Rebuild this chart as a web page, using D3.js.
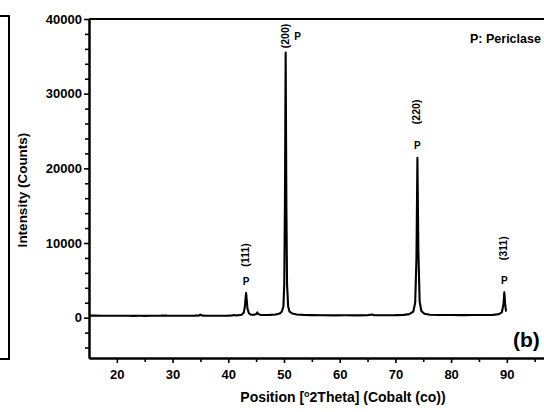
<!DOCTYPE html>
<html>
<head>
<meta charset="utf-8">
<script src="https://cdn.jsdelivr.net/npm/d3@7"></script>
<style>
  html, body { margin: 0; padding: 0; background: #fff; }
  svg { display: block; font-family: "Liberation Sans", Arial, sans-serif; font-weight: bold; }
</style>
</head>
<body>
<svg id="chart" width="544" height="412"></svg>
<script>
// XRD pattern, Co K-alpha radiation
const twoTheta = [
  15.0, 16, 17, 18, 19, 20, 21, 22, 23, 24, 25, 26, 27, 28, 28.5, 29, 30, 31, 32, 33, 34,
  34.8, 35.0, 35.2, 35.6, 36, 37, 38, 39, 40, 40.8, 41.0, 41.2, 41.8, 42.4, 42.8,
  43.0, 43.1, 43.2, 43.3, 43.45, 43.7, 44.0, 44.5, 45.0, 45.2, 45.4, 45.8, 46.5, 47.5,
  48.5, 49.2, 49.6, 49.9, 50.05, 50.17, 50.3, 50.43, 50.55, 50.75, 51.0, 51.5, 52.3, 53.5,
  55, 57, 59, 61, 63, 65, 65.8, 66.2, 68, 70, 71.5, 72.5, 73.2, 73.55, 73.78, 73.95,
  74.12, 74.35, 74.65, 75.2, 76.2, 78, 80, 82, 84, 86, 87.5, 88.5, 89.1, 89.4, 89.55,
  89.7, 89.85, 89.95
];
const counts = [
  280, 270, 260, 265, 255, 250, 255, 250, 245, 250, 245, 250, 260, 280, 300, 270, 260, 250, 255, 260, 270,
  300, 420, 300, 280, 260, 250, 250, 260, 270, 300, 380, 310, 320, 400, 700,
  1600, 2600, 3300, 2500, 1200, 600, 420, 380, 450, 700, 450, 380, 360, 380,
  420, 550, 800, 1500, 4500, 15000, 35500, 15000, 4500, 1500, 800, 550, 430, 370,
  340, 320, 310, 320, 310, 320, 430, 330, 330, 340, 380, 480, 800, 2000, 8000, 21400,
  9000, 2200, 900, 520, 400, 360, 350, 340, 350, 360, 380, 450, 700, 1800, 3400,
  1800, 900, 850
];

// Indexed reflections (periclase, MgO)
const reflHkl = ["(111)", "(200)", "(220)", "(311)"];
const reflPos = [43.2, 50.3, 73.95, 89.55];
const reflCounts = [3300, 35500, 21400, 3400];
const reflPhase = ["P", "P", "P", "P"];

const xMajorTicks = [20, 30, 40, 50, 60, 70, 80, 90];
const xMinorTicks = [25, 35, 45, 55, 65, 75, 85, 95];
const yMajorTicks = [0, 10000, 20000, 30000, 40000];
const yMinorTicks = [-4000, -2000, 2000, 4000, 6000, 8000, 12000, 14000, 16000, 18000,
  22000, 24000, 26000, 28000, 32000, 34000, 36000, 38000];

const svg = d3.select("#chart");
const plot = { left: 89, top: 19, bottom: 358 };

const x = d3.scaleLinear().domain([15, 98]).range([plot.left, plot.left + 83 * 5.571]);
const y = d3.scaleLinear().domain([-5400, 40000]).range([plot.bottom, plot.top]);

// Right border of the neighbouring panel
svg.append("path")
  .attr("d", "M0,16H9V359H0")
  .attr("fill", "none").attr("stroke", "#000").attr("stroke-width", 2);

svg.append("defs").append("clipPath").attr("id", "clip")
  .append("rect").attr("x", plot.left).attr("y", plot.top)
  .attr("width", 544 - plot.left).attr("height", plot.bottom - plot.top);

// Pattern
const pts = twoTheta.map((t, i) => [t, counts[i]]);
svg.append("path")
  .datum(pts)
  .attr("clip-path", "url(#clip)")
  .attr("fill", "none")
  .attr("stroke", "#000")
  .attr("stroke-width", 2.1)
  .attr("stroke-linejoin", "round")
  .attr("d", d3.line().x(d => x(d[0])).y(d => y(d[1])));

// Frame
const xMax = x.range()[1];
svg.append("line").attr("x1", plot.left).attr("x2", xMax).attr("y1", plot.top).attr("y2", plot.top)
  .attr("stroke", "#000").attr("stroke-width", 2);
svg.append("line").attr("x1", xMax).attr("x2", xMax).attr("y1", plot.top).attr("y2", plot.bottom)
  .attr("stroke", "#000").attr("stroke-width", 2);

function styleAxis(g) {
  g.select(".domain").attr("stroke-width", 2);
  g.selectAll(".tick line").attr("stroke-width", 1.6);
  g.selectAll("text").attr("font-size", 13).attr("font-weight", "bold")
    .attr("font-family", "'Liberation Sans', Arial, sans-serif").attr("fill", "#000");
}

// X axis
svg.append("g").attr("transform", `translate(0,${plot.bottom})`)
  .call(d3.axisBottom(x).tickValues(xMinorTicks).tickSize(4).tickSizeOuter(0).tickFormat(""))
  .call(styleAxis);
svg.append("g").attr("transform", `translate(0,${plot.bottom})`)
  .call(d3.axisBottom(x).tickValues(xMajorTicks).tickSize(5).tickSizeOuter(0).tickPadding(7).tickFormat(d3.format("d")))
  .call(styleAxis);

// Y axis
svg.append("g").attr("transform", `translate(${plot.left},0)`)
  .call(d3.axisLeft(y).tickValues(yMinorTicks).tickSize(4).tickSizeOuter(0).tickFormat(""))
  .call(styleAxis);
svg.append("g").attr("transform", `translate(${plot.left},0)`)
  .call(d3.axisLeft(y).tickValues(yMajorTicks).tickSize(5).tickSizeOuter(0).tickPadding(2).tickFormat(d3.format("d")))
  .call(styleAxis);

// Axis titles
svg.append("text")
  .attr("transform", "translate(27,190) rotate(-90)")
  .attr("text-anchor", "middle").attr("font-size", 13.5)
  .text("Intensity (Counts)");

const xt = svg.append("text")
  .attr("x", 343).attr("y", 402)
  .attr("text-anchor", "middle").attr("font-size", 14);
xt.append("tspan").text("Position [");
xt.append("tspan").attr("font-size", 9).attr("dy", -5).text("o");
xt.append("tspan").attr("dy", 5).text("2Theta] (Cobalt (co))");

// Reflection labels
reflPos.forEach((p, i) => {
  const px = x(p);
  const top = y(reflCounts[i]);
  let phaseX = px, phaseY = top - 12, hklY;
  if (top - 50 < plot.top) {
    // peak reaches the top of the frame: labels sit beside each other
    hklY = 36; phaseX = px + 12; phaseY = 36;
  } else if (i === 0) {
    hklY = top - 38;
  } else if (i === 3) {
    hklY = top - 44;
  } else {
    hklY = top - 46;
  }
  svg.append("text")
    .attr("transform", `translate(${px - 1},${hklY}) rotate(-90)`)
    .attr("text-anchor", "middle").attr("dominant-baseline", "central")
    .attr("font-size", 10.5)
    .text(reflHkl[i]);
  svg.append("text")
    .attr("x", phaseX).attr("y", phaseY)
    .attr("text-anchor", "middle").attr("dominant-baseline", "central")
    .attr("font-size", 10)
    .text(reflPhase[i]);
});

// Legend note and panel tag
svg.append("text").attr("x", 470).attr("y", 43).attr("font-size", 12.5).text("P: Periclase");
svg.append("text").attr("x", 513).attr("y", 347).attr("font-size", 21).text("(b)");
</script>
</body>
</html>
